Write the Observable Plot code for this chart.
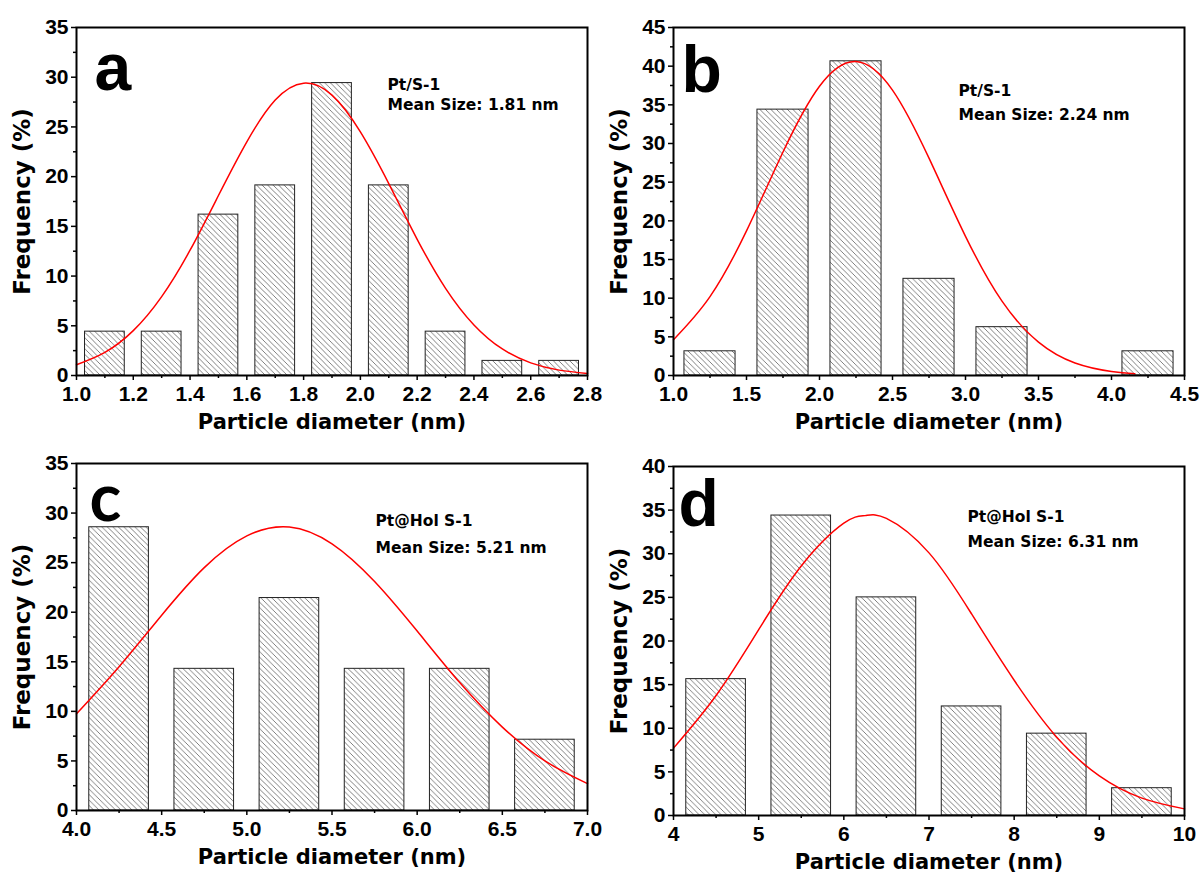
<!DOCTYPE html>
<html><head><meta charset="utf-8">
<script src="https://cdn.jsdelivr.net/npm/d3@7"></script>
<script src="https://cdn.jsdelivr.net/npm/@observablehq/plot@0.6"></script>
<style>
html,body{margin:0;padding:0;background:#fff;}
#fig{position:relative;width:1202px;height:872px;overflow:hidden;background:#fff}
.panel{position:absolute}
.panel svg{overflow:visible}
</style></head><body>
<svg width="0" height="0" style="position:absolute"><defs>
<pattern id="hatch" patternUnits="userSpaceOnUse" width="5.5" height="5.5">
<path d="M0,0L5.5,5.5M-1,4.5L1,6.5M4.5,-1L6.5,1" stroke="#6a6a6a" stroke-width="0.85"/>
</pattern></defs></svg>
<div id="fig"></div>
<script>
// ---------- data ----------
// Panel a: Pt/S-1
const aCenters = [1.1, 1.3, 1.5, 1.7, 1.9, 2.1, 2.3, 2.5, 2.7];
const aBinWidth = 0.2;
const aFreq = [4.41, 4.41, 16.18, 19.12, 29.41, 19.12, 4.41, 1.47, 1.47];
const aCurveX = [1.0, 1.1, 1.2, 1.3, 1.4, 1.5, 1.6, 1.7, 1.8, 1.9, 2.0, 2.1, 2.2, 2.3, 2.4, 2.5, 2.6, 2.7, 2.8];
const aCurveY = [1.08, 2.32, 4.51, 7.93, 12.6, 18.1, 23.5, 27.7, 29.4, 28.2, 24.5, 19.3, 13.7, 8.77, 5.09, 2.67, 1.27, 0.54, 0.21];
const aXTicks = [1.0, 1.2, 1.4, 1.6, 1.8, 2.0, 2.2, 2.4, 2.6, 2.8];
const aYTicks = [0, 5, 10, 15, 20, 25, 30, 35];

// Panel b: Pt/S-1
const bCenters = [1.25, 1.75, 2.25, 2.75, 3.25, 4.25];
const bBinWidth = 0.5;
const bFreq = [3.13, 34.38, 40.63, 12.5, 6.25, 3.13];
const bCurveX = [1.0, 1.25, 1.5, 1.75, 2.0, 2.25, 2.5, 2.75, 3.0, 3.25, 3.5, 3.75, 4.0, 4.16];
const bCurveY = [4.63, 10.2, 18.7, 28.9, 37.4, 40.6, 36.9, 28.1, 18.0, 9.61, 4.31, 1.62, 0.51, 0.22];
const bXTicks = [1.0, 1.5, 2.0, 2.5, 3.0, 3.5, 4.0, 4.5];
const bYTicks = [0, 5, 10, 15, 20, 25, 30, 35, 40, 45];

// Panel c: Pt@Hol S-1
const cCenters = [4.25, 4.75, 5.25, 5.75, 6.25, 6.75];
const cBinWidth = 0.5;
const cFreq = [28.57, 14.29, 21.43, 14.29, 14.29, 7.14];
const cCurveX = [4.0, 4.25, 4.5, 4.75, 5.0, 5.25, 5.5, 5.75, 6.0, 6.25, 6.5, 6.75, 7.0];
const cCurveY = [9.75, 14.5, 19.7, 24.5, 27.7, 28.6, 26.9, 23.1, 18.1, 12.9, 8.41, 5.0, 2.71];
const cXTicks = [4.0, 4.5, 5.0, 5.5, 6.0, 6.5, 7.0];
const cYTicks = [0, 5, 10, 15, 20, 25, 30, 35];

// Panel d: Pt@Hol S-1
const dCenters = [4.5, 5.5, 6.5, 7.5, 8.5, 9.5];
const dBinWidth = 1.0;
const dFreq = [15.63, 34.38, 25.0, 12.5, 9.38, 3.13];
const dCurveX = [4.0, 4.5, 5.0, 5.5, 6.0, 6.25, 6.5, 7.0, 7.5, 8.0, 8.5, 9.0, 9.5, 10.0];
const dCurveY = [7.72, 13.75, 21.3, 28.6, 33.5, 34.37, 34.05, 30.1, 23.1, 15.5, 8.98, 4.54, 1.99, 0.76];
const dXTicks = [4, 5, 6, 7, 8, 9, 10];
const dYTicks = [0, 5, 10, 15, 20, 25, 30, 35, 40];

const panelLetters = ["a", "b", "c", "d"];
const sampleNames = ["Pt/S-1", "Pt/S-1", "Pt@Hol S-1", "Pt@Hol S-1"];
const meanSizes = ["Mean Size: 1.81 nm", "Mean Size: 2.24 nm", "Mean Size: 5.21 nm", "Mean Size: 6.31 nm"];
const xTitle = "Particle diameter (nm)";
const yTitle = "Frequency (%)";

// ---------- layout ----------
const BAR_FRACTION = 0.7;
const panels = [
  {left: 0, top: 0, W: 601, H: 436, mt: 27, mb: 61, ml: 76, mr: 14,
   centers: aCenters, bw: aBinWidth, freq: aFreq, cx: aCurveX, cy: aCurveY,
   xt: aXTicks, yt: aYTicks, fmt: d => d.toFixed(1),
   letterFont: "Liberation Sans", lx: 18, ly: 62, ax: 311, ay1: 62, ay2: 82},
  {left: 601, top: 0, W: 601, H: 436, mt: 27, mb: 61, ml: 72, mr: 18,
   centers: bCenters, bw: bBinWidth, freq: bFreq, cx: bCurveX, cy: bCurveY,
   xt: bXTicks, yt: bYTicks, fmt: d => d.toFixed(1),
   letterFont: "Liberation Sans", lx: 8, ly: 64, ax: 285, ay1: 68, ay2: 92},
  {left: 0, top: 436, W: 601, H: 436, mt: 27, mb: 62, ml: 76, mr: 14,
   centers: cCenters, bw: cBinWidth, freq: cFreq, cx: cCurveX, cy: cCurveY,
   xt: cXTicks, yt: cYTicks, fmt: d => d.toFixed(1),
   letterFont: "Lato", lx: 13, ly: 57, ax: 299, ay1: 62, ay2: 89},
  {left: 601, top: 436, W: 601, H: 436, mt: 30, mb: 57, ml: 72, mr: 18,
   centers: dCenters, bw: dBinWidth, freq: dFreq, cx: dCurveX, cy: dCurveY,
   xt: dXTicks, yt: dYTicks, fmt: d => String(d),
   letterFont: "Liberation Sans", lx: 5, ly: 59, ax: 294, ay1: 55, ay2: 80}
];

const fig = document.getElementById("fig");
panels.forEach((p, i) => {
  const bars = p.centers.map((c, k) => ({x1: c - p.bw * BAR_FRACTION / 2, x2: c + p.bw * BAR_FRACTION / 2, y: p.freq[k]}));
  const curve = p.cx.map((x, k) => ({x, y: p.cy[k]}));
  const xMinor = p.xt.slice(0, -1).map((t, k) => (t + p.xt[k + 1]) / 2);
  const yMinor = p.yt.slice(0, -1).map((t, k) => (t + p.yt[k + 1]) / 2);
  const tickFont = {fontFamily: "Liberation Sans", fontWeight: "bold", fontSize: 21};
  const chart = Plot.plot({
    width: p.W, height: p.H,
    marginTop: p.mt, marginBottom: p.mb, marginLeft: p.ml, marginRight: p.mr,
    style: {background: "transparent", color: "#000", overflow: "visible"},
    x: {domain: [p.xt[0], p.xt[p.xt.length - 1]]},
    y: {domain: [p.yt[0], p.yt[p.yt.length - 1]]},
    marks: [
      Plot.rectY(bars, {x1: "x1", x2: "x2", y: "y", fill: "url(#hatch)", stroke: "#222", strokeWidth: 1}),
      Plot.line(curve, {x: "x", y: "y", stroke: "#ff0000", strokeWidth: 1.5, curve: "natural"}),
      Plot.axisX(p.xt, {anchor: "bottom", tickSize: 5, tickPadding: 6, strokeWidth: 1.5, tickFormat: p.fmt, label: null, ...tickFont}),
      Plot.axisX(xMinor, {anchor: "bottom", tickSize: 3, strokeWidth: 1.5, tickFormat: () => "", label: null}),
      Plot.axisY(p.yt, {anchor: "left", tickSize: 5, tickPadding: 3, strokeWidth: 1.5, tickFormat: d => String(d), label: null, ...tickFont}),
      Plot.axisY(yMinor, {anchor: "left", tickSize: 3, strokeWidth: 1.5, tickFormat: () => "", label: null}),
      Plot.frame({stroke: "#000", strokeWidth: 2}),
      Plot.text([xTitle], {frameAnchor: "bottom", dy: 53, lineAnchor: "bottom", textAnchor: "middle", text: d => d,
        fontFamily: "DejaVu Sans", fontWeight: "bold", fontSize: 21}),
      Plot.text([yTitle], {frameAnchor: "left", dx: -54, rotate: -90, lineAnchor: "middle", textAnchor: "middle", text: d => d,
        fontFamily: "DejaVu Sans", fontWeight: "bold", fontSize: 23}),
      Plot.text([panelLetters[i]], {frameAnchor: "top-left", dx: p.lx, dy: p.ly, lineAnchor: "bottom", textAnchor: "start", text: d => d,
        fontFamily: p.letterFont, fontWeight: "bold", fontSize: 66}),
      Plot.text([sampleNames[i]], {frameAnchor: "top-left", dx: p.ax, dy: p.ay1, lineAnchor: "bottom", textAnchor: "start", text: d => d,
        fontFamily: "DejaVu Sans", fontWeight: "bold", fontSize: 15.5}),
      Plot.text([meanSizes[i]], {frameAnchor: "top-left", dx: p.ax, dy: p.ay2, lineAnchor: "bottom", textAnchor: "start", text: d => d,
        fontFamily: "DejaVu Sans", fontWeight: "bold", fontSize: 15.5})
    ]
  });
  const div = document.createElement("div");
  div.className = "panel";
  div.style.left = p.left + "px";
  div.style.top = p.top + "px";
  div.appendChild(chart);
  fig.appendChild(div);
});
</script>
</body></html>
